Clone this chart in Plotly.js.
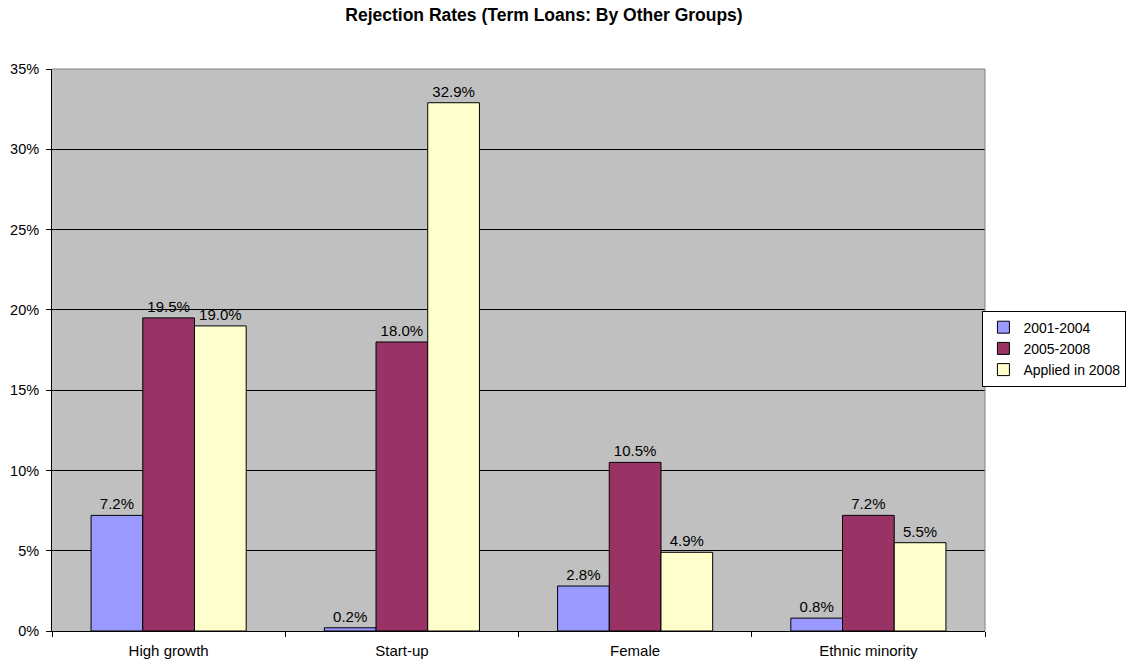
<!DOCTYPE html>
<html>
<head>
<meta charset="utf-8">
<script src="https://cdn.plot.ly/plotly-3.0.1.min.js"></script>
<style>html,body{margin:0;padding:0;background:#fff;}#chart{width:1127px;height:664px;}</style>
</head>
<body>
<div id="chart"></div>
<script>
const categories = ["High growth", "Start-up", "Female", "Ethnic minority"];
const seriesNames = ["2001-2004", "2005-2008", "Applied in 2008"];
const values2001_2004 = [7.2, 0.2, 2.8, 0.8];
const values2005_2008 = [19.5, 18.0, 10.5, 7.2];
const valuesApplied2008 = [19.0, 32.9, 4.9, 5.5];
const yTickVals = [0, 5, 10, 15, 20, 25, 30, 35];
const colors = ["#9999FF", "#993366", "#FFFFCC"];

const FONT = "Liberation Sans, Arial, sans-serif";
const allValues = [values2001_2004, values2005_2008, valuesApplied2008];
const traces = allValues.map((vals, i) => ({
  type: "bar",
  name: seriesNames[i],
  x: categories,
  y: vals,
  marker: {color: colors[i], line: {color: "#000000", width: 1}},
  text: vals.map(v => v.toFixed(1) + "%"),
  textposition: "outside",
  textfont: {family: FONT, size: 15, color: "#000"},
  cliponaxis: false,
  hoverinfo: "skip"
}));

const layout = {
  width: 1127, height: 664,
  margin: {l: 52, r: 142, t: 69, b: 33, autoexpand: false},
  paper_bgcolor: "#FFFFFF",
  plot_bgcolor: "#C0C0C0",
  font: {family: FONT, size: 15, color: "#000"},
  title: {text: "<b>Rejection Rates (Term Loans: By Other Groups)</b>", x: 0.4827, xref: "container", xanchor: "center", y: 0.977, yanchor: "middle", font: {size: 17.5, family: FONT}},
  barmode: "group",
  bargap: 0.335,
  bargroupgap: 0,
  showlegend: true,
  legend: {xref: "container", yref: "container", x: 0.9995, xanchor: "right", y: 0.475, yanchor: "middle", bgcolor: "#FFFFFF", bordercolor: "#000000", borderwidth: 1, font: {size: 14, family: FONT}, tracegroupgap: 0, itemwidth: 30},
  xaxis: {
    type: "category",
    showline: true, linecolor: "#000", linewidth: 1,
    ticks: "outside", tickson: "boundaries", ticklen: 5, tickcolor: "#000",
    ticklabelstandoff: 6,
    showgrid: false, tickfont: {size: 15}, fixedrange: true
  },
  yaxis: {
    range: [0, 35], tickvals: yTickVals, ticktext: yTickVals.map(v => v + "%"),
    showline: true, linecolor: "#000", linewidth: 1,
    ticks: "outside", ticklen: 5, tickcolor: "#000",
    ticklabelstandoff: 4,
    showgrid: true, gridcolor: "#000", gridwidth: 1, zeroline: false,
    tickfont: {size: 14.5}, fixedrange: true
  },
  shapes: [
    {type: "line", xref: "paper", yref: "paper", x0: 0, x1: 1, y0: 1, y1: 1, line: {color: "#808080", width: 1}, layer: "above"},
    {type: "line", xref: "paper", yref: "paper", x0: 1, x1: 1, y0: 0, y1: 1, line: {color: "#808080", width: 1}, layer: "above"}
  ]
};

Plotly.newPlot("chart", traces, layout, {displayModeBar: false, staticPlot: true});
</script>
</body>
</html>
